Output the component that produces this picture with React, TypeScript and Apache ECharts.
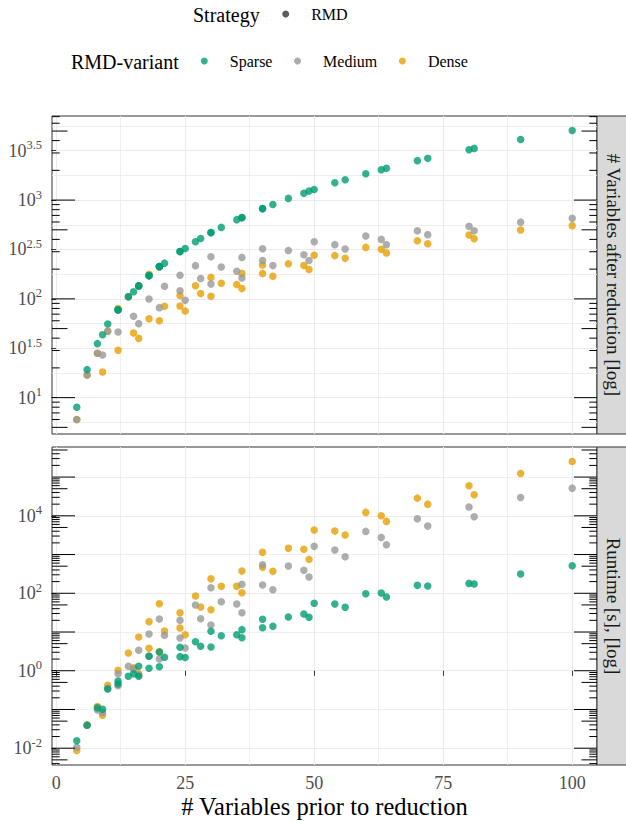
import React, { useEffect, useRef } from "react";
import * as echarts from "echarts";

// ---------------- data ----------------
// x = # variables prior to reduction, y = value
const sparseVars: number[][] = [
  [4, 8], [6, 19.2], [8, 35.2], [9, 43.4], [10, 55.6], [12, 77], [12, 77.5], [14, 105], [15, 118], [16, 135], [16, 136],
  [18, 172], [18, 171], [20, 212], [20, 213], [21, 230], [24, 301], [24, 302], [25, 324], [27, 379], [28, 409],
  [30, 468], [30, 469], [32, 529], [35, 634], [36, 664], [36, 665], [40, 819], [40, 820], [42, 904], [45, 1040],
  [48, 1170], [49, 1233], [50, 1282], [54, 1500], [56, 1607], [60, 1849], [63, 2031], [64, 2095], [70, 2508],
  [72, 2645], [80, 3237], [81, 3337], [90, 4110], [100, 5070],
];
const mediumVars: number[][] = [
  [4, 6], [6, 16.9], [8, 28.1], [9, 27], [10, 46.9], [12, 46.1], [12, 77], [14, 105], [15, 66.5], [16, 56.1], [16, 135],
  [18, 99.6], [18, 172], [20, 81.5], [20, 212], [21, 134], [24, 173], [24, 121], [25, 96.6], [27, 217], [28, 161],
  [30, 267], [30, 141], [32, 210], [35, 190], [36, 263], [36, 163], [40, 322], [40, 245], [42, 218], [45, 308],
  [48, 280], [49, 245], [50, 379], [54, 354], [56, 319], [60, 433], [63, 400], [64, 354], [70, 490], [72, 447],
  [80, 542], [81, 490], [90, 598], [100, 653],
];
const denseVars: number[][] = [
  [4, 6], [6, 16.9], [8, 28.1], [9, 18.2], [10, 46.9], [12, 30.1], [12, 80], [14, 105], [15, 45.1], [16, 39.8], [16, 135],
  [18, 63], [18, 177], [20, 60], [20, 212], [21, 84], [24, 108], [24, 84.5], [25, 75.3], [27, 136], [28, 113],
  [30, 165], [30, 106], [32, 144], [35, 140], [36, 181], [36, 127], [40, 220], [40, 181], [42, 169], [45, 227],
  [48, 218], [49, 198], [50, 276], [54, 274], [56, 257], [60, 332], [63, 317], [64, 291], [70, 388], [72, 362],
  [80, 443], [81, 407], [90, 497], [100, 551],
];

const sparseTime: number[][] = [
  [4, 0.0155], [6, 0.039], [8, 0.11], [9, 0.101], [10, 0.339], [12, 0.545], [12, 0.456], [14, 0.72], [15, 0.83],
  [16, 1.31], [16, 0.72], [18, 2.36], [18, 1.16], [20, 3.05], [20, 1.27], [21, 2.23], [24, 4.04], [24, 2.31], [25, 2.2],
  [27, 5.6], [28, 4.3], [30, 10.4], [30, 4.1], [32, 8.0], [35, 8.5], [36, 11.5], [36, 7.1], [40, 21.3], [40, 12.9],
  [42, 14.0], [45, 24.4], [48, 29.2], [49, 23.9], [50, 55], [54, 52.8], [56, 43.4], [60, 97.3], [63, 101], [64, 80],
  [70, 160], [72, 154], [80, 180], [81, 173], [90, 313], [100, 513],
];
const mediumTime: number[][] = [
  [4, 0.0106], [6, 0.039], [8, 0.097], [9, 0.083], [10, 0.35], [12, 0.84], [12, 0.41], [14, 1.31], [15, 1.1],
  [16, 3.37], [16, 0.78], [18, 8.9], [18, 2.4], [20, 21.7], [20, 2.01], [21, 8.2], [24, 20.0], [24, 7.0], [25, 3.87],
  [27, 49.7], [28, 22], [30, 139], [30, 15.2], [32, 60.5], [35, 52.8], [36, 170], [36, 31.5], [40, 545], [40, 163],
  [42, 123], [45, 505], [48, 391], [49, 262], [50, 1625], [54, 1304], [56, 876], [60, 3960], [63, 2770], [64, 1786],
  [70, 8370], [72, 5420], [80, 16800], [81, 9420], [90, 29800], [100, 51800],
];
const denseTime: number[][] = [
  [4, 0.0087], [6, 0.04], [8, 0.119], [9, 0.071], [10, 0.42], [12, 1.03], [14, 2.88], [15, 1.2], [16, 7.43],
  [16, 0.84], [18, 18.5], [18, 3.8], [20, 53.7], [20, 3.1], [21, 10.6], [24, 31.5], [24, 12.7], [25, 8.5], [27, 85],
  [28, 44], [30, 237], [30, 37.6], [32, 151], [35, 151], [36, 375], [36, 103], [40, 1138], [40, 467], [42, 368],
  [45, 1443], [48, 1360], [49, 750], [50, 4280], [54, 4030], [56, 3180], [60, 12240], [63, 10000], [64, 7170],
  [70, 28600], [72, 20000], [80, 59400], [81, 34800], [90, 124000], [100, 253000],
];

const variantNames = ["Sparse", "Medium", "Dense"];
const strategyNames = ["RMD"];
const xTickValues = [0, 25, 50, 75, 100];
const xMinorValues = [12.5, 37.5, 62.5, 87.5];
const topYTicks = [1, 1.5, 2, 2.5, 3, 3.5]; // log10 exponents
const topYMinor = [0.75, 1.25, 1.75, 2.25, 2.75, 3.25, 3.75];
const bottomYTicks = [-2, 0, 2, 4];
const bottomYMinor = [-1, 1, 3, 5];
const topStrip = "# Variables after reduction [log]";
const bottomStrip = "Runtime [s], [log]";
const xTitle = "# Variables prior to reduction";

// ---------------- styles ----------------
const FONT = "Liberation Serif";
const COLORS: Record<string, string> = { Sparse: "#009E73", Medium: "#999999", Dense: "#E69F00" };
const LABEL_COLOR = "#4d4d4d";

const toLog = (arr: number[][]) => arr.map(([x, y]) => [x, Math.log10(y)]);

function expand(vals: number[]) {
  const lo = Math.min(...vals);
  const hi = Math.max(...vals);
  const pad = (hi - lo) * 0.05;
  return [lo - pad, hi + pad];
}

function logTickData(lo: number, hi: number) {
  const out: number[][] = [];
  for (let n = Math.floor(lo) - 1; n <= Math.ceil(hi); n++) {
    for (let k = 1; k <= 9; k++) {
      const v = n + Math.log10(k);
      if (v >= lo && v <= hi) out.push([0, v, k === 1 ? 23 : k === 5 ? 15.5 : 7.7]);
    }
  }
  return out;
}

const supFmt = (v: number) => {
  const r = Math.round(v * 100) / 100;
  return `{b|10}{s|${r}}`;
};

export default function App() {
  const ref = useRef<HTMLDivElement>(null);
  useEffect(() => {
    if (!ref.current) return;
    const chart = echarts.init(ref.current, undefined, { renderer: "svg" });

    const allX = [...sparseVars, ...sparseTime].map((p) => p[0]);
    const [xMin, xMax] = expand(allX);
    const [tMin, tMax] = expand([...sparseVars, ...mediumVars, ...denseVars].map((p) => Math.log10(p[1])));
    const [bMin, bMax] = expand([...sparseTime, ...mediumTime, ...denseTime].map((p) => Math.log10(p[1])));

    const grids = [
      { left: 52, top: 116, width: 545, height: 318 },
      { left: 52, top: 447, width: 545, height: 318 },
    ];

    const rich = {
      b: { fontSize: 18, fontFamily: FONT, color: LABEL_COLOR, lineHeight: 24 },
      s: { fontSize: 12.5, fontFamily: FONT, color: LABEL_COLOR, verticalAlign: "top", lineHeight: 13 },
    };

    const xAxisMain = (gi: number, labels: boolean) => ({
      type: "value",
      gridIndex: gi,
      min: xMin,
      max: xMax,
      axisLine: { show: false },
      axisTick: { show: labels, customValues: xTickValues, length: 5, lineStyle: { color: "#333", width: 1 } },
      axisLabel: {
        show: labels,
        customValues: xTickValues,
        fontFamily: FONT,
        fontSize: 18,
        color: LABEL_COLOR,
        margin: 9,
      },
      splitLine: { show: true, lineStyle: { color: "#ebebeb", width: 1.1 } },
    });
    const xAxisMinor = (gi: number) => ({
      type: "value",
      gridIndex: gi,
      min: xMin,
      max: xMax,
      axisLine: { show: false },
      axisTick: { show: false, customValues: xMinorValues },
      axisLabel: { show: false, customValues: xMinorValues },
      splitLine: { show: true, lineStyle: { color: "#ebebeb", width: 0.8 } },
    });
    const yAxisMain = (gi: number, lo: number, hi: number, ticks: number[]) => ({
      type: "value",
      gridIndex: gi,
      min: lo,
      max: hi,
      axisLine: { show: false },
      axisTick: { show: true, customValues: ticks, length: 5, lineStyle: { color: "#333", width: 1 } },
      axisLabel: { customValues: ticks, formatter: supFmt, rich, margin: 10 },
      splitLine: { show: true, lineStyle: { color: "#ebebeb", width: 1.1 } },
    });
    const yAxisMinor = (gi: number, lo: number, hi: number, ticks: number[]) => ({
      type: "value",
      gridIndex: gi,
      min: lo,
      max: hi,
      position: "left",
      axisLine: { show: false },
      axisTick: { show: false, customValues: ticks },
      axisLabel: { show: false, customValues: ticks },
      splitLine: { show: true, lineStyle: { color: "#ebebeb", width: 0.8 } },
    });

    const scatter = (name: string, data: number[][], xi: number, yi: number) => ({
      type: "scatter",
      name,
      xAxisIndex: xi,
      yAxisIndex: yi,
      data: toLog(data),
      symbol: "circle",
      symbolSize: 7.5,
      itemStyle: { color: COLORS[name], opacity: 0.8 },
      silent: true,
      z: 3,
    });

    const tickSeries = (xi: number, yi: number, lo: number, hi: number) => ({
      type: "custom",
      xAxisIndex: xi,
      yAxisIndex: yi,
      silent: true,
      z: 4,
      encode: { x: 0, y: 1 },
      data: logTickData(lo, hi),
      renderItem: (params: any, api: any) => {
        const cs = params.coordSys;
        const y = api.coord([0, api.value(1)])[1];
        const len = api.value(2);
        return {
          type: "group",
          children: [
            { type: "line", shape: { x1: cs.x, y1: y, x2: cs.x + len, y2: y }, style: { stroke: "#000", lineWidth: 1 } },
            {
              type: "line",
              shape: { x1: cs.x + cs.width, y1: y, x2: cs.x + cs.width - len, y2: y },
              style: { stroke: "#000", lineWidth: 1 },
            },
          ],
        };
      },
    });

    const stripRect = (g: any) => ({
      type: "rect",
      shape: { x: g.left + g.width, y: g.top, width: 32, height: g.height },
      style: { fill: "#d9d9d9", stroke: "#333", lineWidth: 1 },
    });
    const stripText = (g: any, text: string) => ({
      type: "text",
      x: g.left + g.width + 16,
      y: g.top + g.height / 2,
      rotation: -Math.PI / 2,
      style: { text, align: "center", verticalAlign: "middle", fontFamily: FONT, fontSize: 19, fill: "#1a1a1a" },
    });

    const legendCommon = {
      icon: "circle",
      itemWidth: 41,
      itemHeight: 7,
      itemGap: 21.6,
      padding: 0,
      selectedMode: false,
      textStyle: { fontFamily: FONT, fontSize: 16, color: "#000" },
    };

    chart.setOption({
      animation: false,
      backgroundColor: "#fff",
      grid: grids.map((g) => ({ ...g, show: true, borderColor: "#333", borderWidth: 1, backgroundColor: "transparent" })),
      xAxis: [xAxisMain(0, false), xAxisMinor(0), xAxisMain(1, true), xAxisMinor(1)],
      yAxis: [
        yAxisMain(0, tMin, tMax, topYTicks),
        yAxisMinor(0, tMin, tMax, topYMinor),
        yAxisMain(1, bMin, bMax, bottomYTicks),
        yAxisMinor(1, bMin, bMax, bottomYMinor),
      ],
      legend: [
        { ...legendCommon, data: strategyNames, left: 282.2, top: 6 },
        { ...legendCommon, data: variantNames, left: 200.8, top: 53 },
      ],
      series: [
        { type: "scatter", name: strategyNames[0], data: [], itemStyle: { color: "#333" }, xAxisIndex: 0, yAxisIndex: 0 },
        scatter("Dense", denseVars, 0, 0),
        scatter("Medium", mediumVars, 0, 0),
        scatter("Sparse", sparseVars, 0, 0),
        scatter("Dense", denseTime, 2, 2),
        scatter("Medium", mediumTime, 2, 2),
        scatter("Sparse", sparseTime, 2, 2),
        tickSeries(0, 0, tMin, tMax),
        tickSeries(2, 2, bMin, bMax),
      ],
      graphic: [
        stripRect(grids[0]),
        stripText(grids[0], topStrip),
        stripRect(grids[1]),
        stripText(grids[1], bottomStrip),
        {
          type: "text",
          x: 193,
          y: 15,
          style: { text: "Strategy", align: "left", verticalAlign: "middle", fontFamily: FONT, fontSize: 20, fill: "#000" },
        },
        {
          type: "text",
          x: 71,
          y: 62,
          style: { text: "RMD-variant", align: "left", verticalAlign: "middle", fontFamily: FONT, fontSize: 20, fill: "#000" },
        },
        {
          type: "text",
          x: 324.5,
          y: 806,
          style: { text: xTitle, align: "center", verticalAlign: "middle", fontFamily: FONT, fontSize: 24.5, fill: "#000" },
        },
      ],
    });
    return () => chart.dispose();
  }, []);
  return <div ref={ref} style={{ position: "absolute", left: 0, top: 0, width: 626, height: 821 }} />;
}
